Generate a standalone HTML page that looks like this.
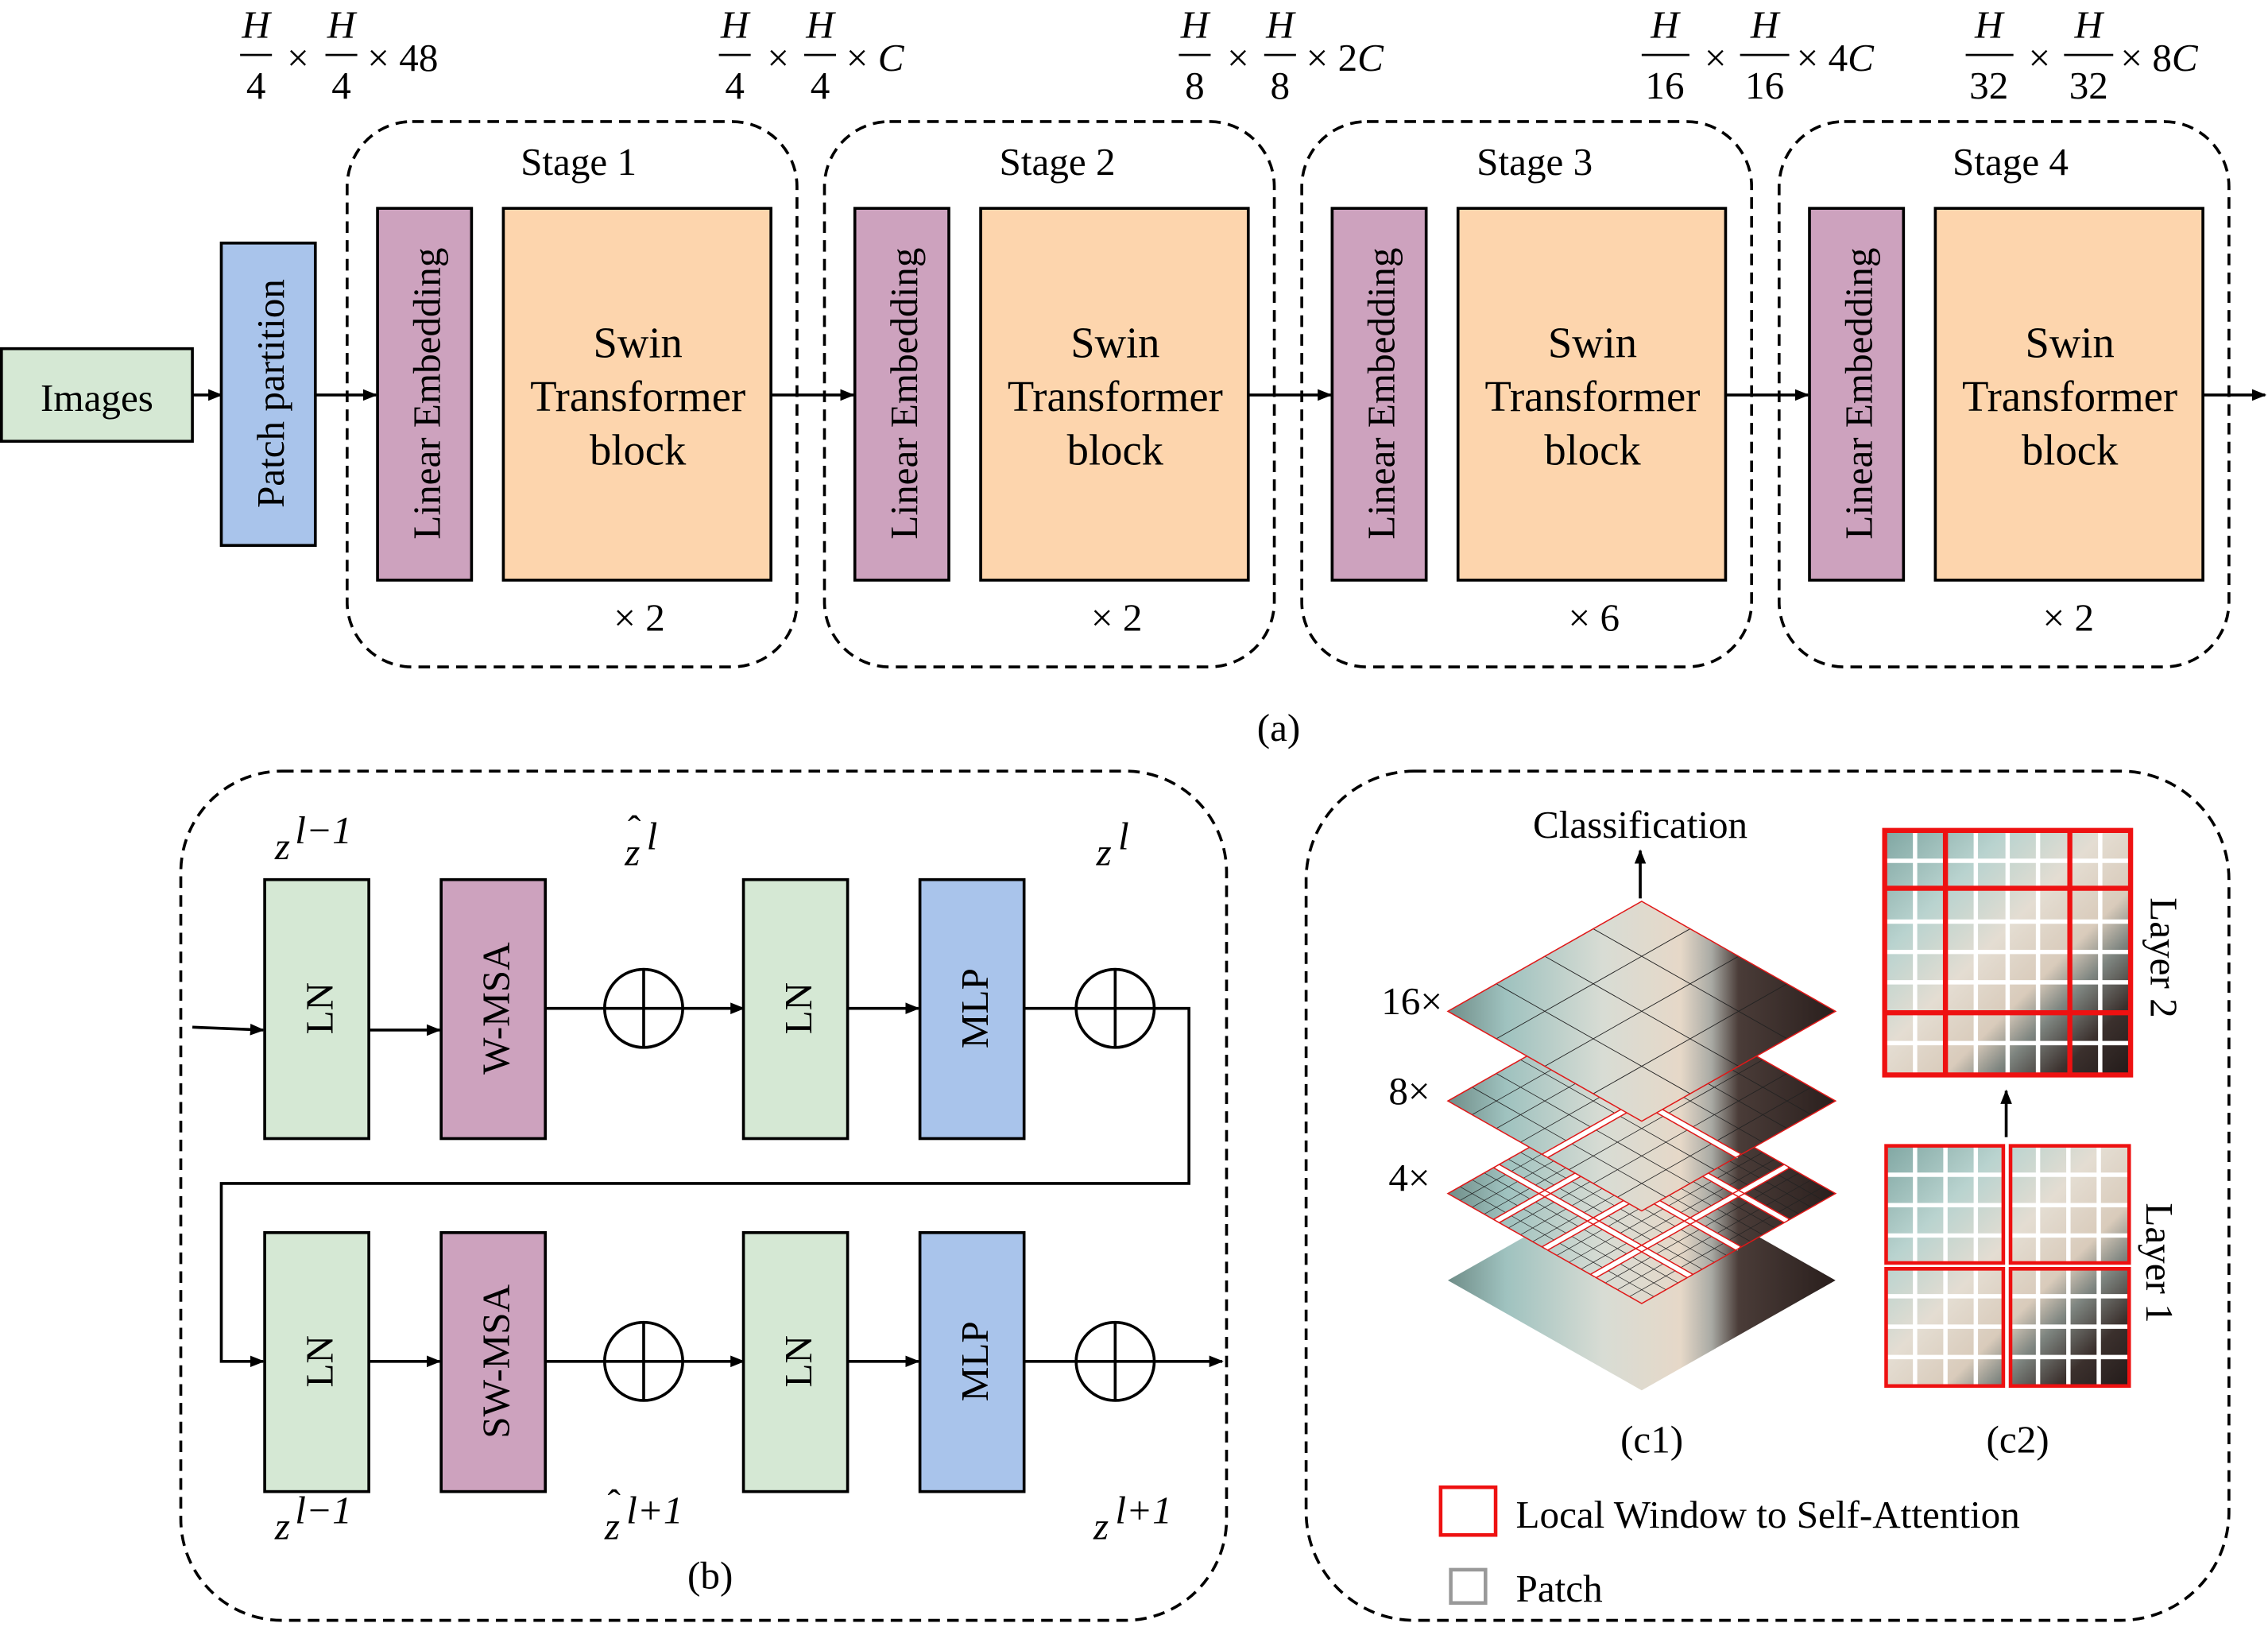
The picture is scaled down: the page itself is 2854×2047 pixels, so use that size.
<!DOCTYPE html>
<html><head><meta charset="utf-8"><style>html,body{margin:0;padding:0;background:#fff}svg{display:block}</style></head>
<body>
<svg width="2854" height="2047" viewBox="0 0 1568 1124.6" preserveAspectRatio="none" xmlns="http://www.w3.org/2000/svg">
<defs>
<marker id="ar" markerWidth="10" markerHeight="10" refX="9" refY="5" orient="auto" markerUnits="userSpaceOnUse"><path d="M0,1 L10,5 L0,9 z" fill="#000"/></marker>
<linearGradient id="img" x1="0" y1="0" x2="1" y2="0">
<stop offset="0" stop-color="#6f8d88"/><stop offset="0.15" stop-color="#9fc2bf"/><stop offset="0.4" stop-color="#d8dcd4"/><stop offset="0.6" stop-color="#e6d8c8"/><stop offset="0.68" stop-color="#a9aaa4"/><stop offset="0.75" stop-color="#4a3c38"/><stop offset="1" stop-color="#2a1f1d"/></linearGradient>
<linearGradient id="img2" x1="0" y1="0" x2="1" y2="1">
<stop offset="0" stop-color="#7fa6a2"/><stop offset="0.25" stop-color="#b9d3cf"/><stop offset="0.45" stop-color="#e4ddd2"/><stop offset="0.62" stop-color="#d9cbbb"/><stop offset="0.72" stop-color="#7e8580"/><stop offset="0.85" stop-color="#3b302d"/><stop offset="1" stop-color="#221a19"/></linearGradient>
</defs>
<style>
text{font-size:27px;font-family:"Liberation Serif",serif}
.it{font-style:italic}
.b{stroke:#000;stroke-width:2}
.d{fill:none;stroke:#000;stroke-width:2;stroke-dasharray:8 5}
.l{stroke:#000;stroke-width:2;fill:none}
.a{stroke:#000;stroke-width:2;fill:none;marker-end:url(#ar)}
.sw{font-size:30px}
</style>

<!-- fractions -->
<g>
<text class="it" x="177" y="26" text-anchor="middle">H</text><text class="it" x="236" y="26" text-anchor="middle">H</text>
<line x1="166" y1="38" x2="188" y2="38" stroke="#000" stroke-width="1.5"/><line x1="225" y1="38" x2="247" y2="38" stroke="#000" stroke-width="1.5"/>
<text x="177" y="68" text-anchor="middle">4</text><text x="236" y="68" text-anchor="middle">4</text>
<text x="206" y="49" text-anchor="middle">×</text><text x="254" y="49">× 48</text>

<text class="it" x="508" y="26" text-anchor="middle">H</text><text class="it" x="567" y="26" text-anchor="middle">H</text>
<line x1="497" y1="38" x2="519" y2="38" stroke="#000" stroke-width="1.5"/><line x1="556" y1="38" x2="578" y2="38" stroke="#000" stroke-width="1.5"/>
<text x="508" y="68" text-anchor="middle">4</text><text x="567" y="68" text-anchor="middle">4</text>
<text x="538" y="49" text-anchor="middle">×</text><text x="585" y="49">× <tspan class="it">C</tspan></text>

<text class="it" x="826" y="26" text-anchor="middle">H</text><text class="it" x="885" y="26" text-anchor="middle">H</text>
<line x1="815" y1="38" x2="837" y2="38" stroke="#000" stroke-width="1.5"/><line x1="874" y1="38" x2="896" y2="38" stroke="#000" stroke-width="1.5"/>
<text x="826" y="68" text-anchor="middle">8</text><text x="885" y="68" text-anchor="middle">8</text>
<text x="856" y="49" text-anchor="middle">×</text><text x="903" y="49">× 2<tspan class="it">C</tspan></text>

<text class="it" x="1151" y="26" text-anchor="middle">H</text><text class="it" x="1220" y="26" text-anchor="middle">H</text>
<line x1="1135" y1="38" x2="1168" y2="38" stroke="#000" stroke-width="1.5"/><line x1="1203" y1="38" x2="1237" y2="38" stroke="#000" stroke-width="1.5"/>
<text x="1151" y="68" text-anchor="middle">16</text><text x="1220" y="68" text-anchor="middle">16</text>
<text x="1186" y="49" text-anchor="middle">×</text><text x="1242" y="49">× 4<tspan class="it">C</tspan></text>

<text class="it" x="1375" y="26" text-anchor="middle">H</text><text class="it" x="1444" y="26" text-anchor="middle">H</text>
<line x1="1359" y1="38" x2="1392" y2="38" stroke="#000" stroke-width="1.5"/><line x1="1427" y1="38" x2="1461" y2="38" stroke="#000" stroke-width="1.5"/>
<text x="1375" y="68" text-anchor="middle">32</text><text x="1444" y="68" text-anchor="middle">32</text>
<text x="1410" y="49" text-anchor="middle">×</text><text x="1466" y="49">× 8<tspan class="it">C</tspan></text>
</g>

<!-- (a) -->
<rect x="1" y="241" width="132" height="64" fill="#d5e8d4" class="b"/>
<text x="67" y="284" text-anchor="middle">Images</text>
<line x1="133" y1="273" x2="153" y2="273" class="a"/>
<rect x="153" y="168" width="65" height="209" fill="#a9c4eb" class="b"/>
<text transform="translate(196,272) rotate(-90)" text-anchor="middle">Patch partition</text>
<line x1="218" y1="273" x2="260" y2="273" class="a"/>

<g id="stage">
<rect x="240" y="84" width="311" height="377" rx="45" class="d"/>
<rect x="261" y="144" width="65" height="257" fill="#cda2be" class="b"/>
<text transform="translate(304,272) rotate(-90)" text-anchor="middle">Linear Embedding</text>
<rect x="348" y="144" width="185" height="257" fill="#fdd5ad" class="b"/>
<text x="441" y="247" text-anchor="middle" class="sw">Swin</text>
<text x="441" y="284" text-anchor="middle" class="sw">Transformer</text>
<text x="441" y="321" text-anchor="middle" class="sw">block</text>
</g>
<use href="#stage" x="330"/><use href="#stage" x="660"/><use href="#stage" x="990"/>
<text x="400" y="121" text-anchor="middle">Stage 1</text>
<text x="731" y="121" text-anchor="middle">Stage 2</text>
<text x="1061" y="121" text-anchor="middle">Stage 3</text>
<text x="1390" y="121" text-anchor="middle">Stage 4</text>
<text x="442" y="436" text-anchor="middle">× 2</text>
<text x="772" y="436" text-anchor="middle">× 2</text>
<text x="1102" y="436" text-anchor="middle">× 6</text>
<text x="1430" y="436" text-anchor="middle">× 2</text>
<line x1="533" y1="273" x2="590" y2="273" class="a"/>
<line x1="863" y1="273" x2="920" y2="273" class="a"/>
<line x1="1193" y1="273" x2="1250" y2="273" class="a"/>
<line x1="1523" y1="273" x2="1566" y2="273" class="a"/>
<text x="884" y="512" text-anchor="middle">(a)</text>

<!-- (b) -->
<rect x="125" y="533" width="723" height="587" rx="70" class="d"/>
<g>
<rect x="183" y="608" width="72" height="179" fill="#d5e8d4" class="b"/>
<rect x="305" y="608" width="72" height="179" fill="#cda2be" class="b"/>
<rect x="514" y="608" width="72" height="179" fill="#d5e8d4" class="b"/>
<rect x="636" y="608" width="72" height="179" fill="#a9c4eb" class="b"/>
<ellipse cx="445" cy="697" rx="27" ry="27" class="l"/><line x1="445" y1="670" x2="445" y2="724" class="l"/>
<ellipse cx="771" cy="697" rx="27" ry="27" class="l"/><line x1="771" y1="670" x2="771" y2="724" class="l"/>
<line x1="255" y1="712" x2="304" y2="712" class="a"/>
<line x1="377" y1="697" x2="514" y2="697" class="a"/>
<line x1="586" y1="697" x2="635" y2="697" class="a"/>
<text transform="translate(230,697) rotate(-90)" text-anchor="middle" font-size="29">LN</text>
<text transform="translate(352,697) rotate(-90)" text-anchor="middle">W-MSA</text>
<text transform="translate(561,697) rotate(-90)" text-anchor="middle" font-size="29">LN</text>
<text transform="translate(683,697) rotate(-90)" text-anchor="middle" font-size="29">MLP</text>
</g>
<g transform="translate(0,244)">
<rect x="183" y="608" width="72" height="179" fill="#d5e8d4" class="b"/>
<rect x="305" y="608" width="72" height="179" fill="#cda2be" class="b"/>
<rect x="514" y="608" width="72" height="179" fill="#d5e8d4" class="b"/>
<rect x="636" y="608" width="72" height="179" fill="#a9c4eb" class="b"/>
<ellipse cx="445" cy="697" rx="27" ry="27" class="l"/><line x1="445" y1="670" x2="445" y2="724" class="l"/>
<ellipse cx="771" cy="697" rx="27" ry="27" class="l"/><line x1="771" y1="670" x2="771" y2="724" class="l"/>
<line x1="255" y1="697" x2="304" y2="697" class="a"/>
<line x1="377" y1="697" x2="514" y2="697" class="a"/>
<line x1="586" y1="697" x2="635" y2="697" class="a"/>
<line x1="708" y1="697" x2="845" y2="697" class="a"/>
<text transform="translate(230,697) rotate(-90)" text-anchor="middle" font-size="29">LN</text>
<text transform="translate(352,697) rotate(-90)" text-anchor="middle">SW-MSA</text>
<text transform="translate(561,697) rotate(-90)" text-anchor="middle" font-size="29">LN</text>
<text transform="translate(683,697) rotate(-90)" text-anchor="middle" font-size="29">MLP</text>
</g>
<line x1="133" y1="710" x2="182" y2="712" class="a"/>
<polyline points="708,697 822,697 822,818 153,818 153,941 182,941" class="a"/>
<g>
<text class="it" x="190" y="594">z</text><text class="it" x="204" y="583" font-size="21">l−1</text>
<text class="it" x="432" y="598">z</text><text x="434" y="582" font-size="18">ˆ</text><text class="it" x="447" y="587" font-size="21">l</text>
<text class="it" x="758" y="598">z</text><text class="it" x="773" y="587" font-size="21">l</text>
<text class="it" x="190" y="1064">z</text><text class="it" x="204" y="1053" font-size="21">l−1</text>
<text class="it" x="418" y="1064">z</text><text x="420" y="1048" font-size="18">ˆ</text><text class="it" x="433" y="1053" font-size="21">l+1</text>
<text class="it" x="756" y="1064">z</text><text class="it" x="771" y="1053" font-size="21">l+1</text>
</g>
<text x="491" y="1098" text-anchor="middle">(b)</text>

<!-- (c) -->
<rect x="903" y="533" width="638" height="587" rx="75" class="d"/>
<text x="1134" y="579" text-anchor="middle">Classification</text>
<line x1="1134" y1="621" x2="1134" y2="588" class="a" stroke-width="3"/>

<polygon points="1135,809 1269,885 1135,961 1001,885" fill="url(#img)"/>
<polygon points="1135,749 1269,825 1135,901 1001,825" fill="url(#img)"/>
<g transform="matrix(134,76,-134,76,1135,749)">
<path vector-effect="non-scaling-stroke" stroke="#222" stroke-width="0.7" fill="none" d="M0 .0625H1M0 .125H1M0 .1875H1M0 .3125H1M0 .375H1M0 .4375H1M0 .5625H1M0 .625H1M0 .6875H1M0 .8125H1M0 .875H1M0 .9375H1M.0625 0V1M.125 0V1M.1875 0V1M.3125 0V1M.375 0V1M.4375 0V1M.5625 0V1M.625 0V1M.6875 0V1M.8125 0V1M.875 0V1M.9375 0V1"/>
<path vector-effect="non-scaling-stroke" stroke="#fff" stroke-width="6" fill="none" d="M0 .25H1M0 .5H1M0 .75H1M.25 0V1M.5 0V1M.75 0V1"/>
<path vector-effect="non-scaling-stroke" stroke="#e01818" stroke-width="1.5" fill="none" d="M0 0H1V1H0ZM0 .235H1M0 .265H1M0 .485H1M0 .515H1M0 .735H1M0 .765H1M.235 0V1M.265 0V1M.485 0V1M.515 0V1M.735 0V1M.765 0V1"/>
</g>
<polygon points="1135,685 1269,761 1135,837 1001,761" fill="url(#img)"/>
<g transform="matrix(134,76,-134,76,1135,685)">
<path vector-effect="non-scaling-stroke" stroke="#222" stroke-width="0.8" fill="none" d="M0 .125H1M0 .25H1M0 .375H1M0 .625H1M0 .75H1M0 .875H1M.125 0V1M.25 0V1M.375 0V1M.625 0V1M.75 0V1M.875 0V1"/>
<path vector-effect="non-scaling-stroke" stroke="#fff" stroke-width="7" fill="none" d="M0 .5H1M.5 0V1"/>
<path vector-effect="non-scaling-stroke" stroke="#e01818" stroke-width="1.5" fill="none" d="M0 0H1V1H0ZM0 .485H1M0 .515H1M.485 0V1M.515 0V1"/>
</g>
<polygon points="1135,623 1269,699 1135,775 1001,699" fill="url(#img)"/>
<g transform="matrix(134,76,-134,76,1135,623)">
<path vector-effect="non-scaling-stroke" stroke="#222" stroke-width="0.9" fill="none" d="M0 .25H1M0 .5H1M0 .75H1M.25 0V1M.5 0V1M.75 0V1"/>
<path vector-effect="non-scaling-stroke" stroke="#e01818" stroke-width="1.5" fill="none" d="M0 0H1V1H0Z"/>
</g>
<text x="955" y="701" font-size="24">16×</text>
<text x="960" y="763" font-size="24">8×</text>
<text x="960" y="823" font-size="24">4×</text>
<text x="1142" y="1004" text-anchor="middle">(c1)</text>

<rect x="1303" y="574" width="170" height="169" fill="url(#img2)"/>
<path stroke="#fff" stroke-width="3" fill="none" d="M1303 595H1473M1303 637H1473M1303 658H1473M1303 679H1473M1303 721H1473M1324 574V743M1366 574V743M1388 574V743M1409 574V743M1452 574V743"/>
<path stroke="#ee1111" stroke-width="3.5" fill="none" d="M1303 574H1473V743H1303ZM1345 574V743M1431 574V743M1303 614H1473M1303 700H1473"/>
<text transform="translate(1487,662) rotate(90)" text-anchor="middle">Layer 2</text>
<line x1="1387" y1="786" x2="1387" y2="754" class="a" stroke-width="3"/>
<rect x="1303" y="791" width="170" height="168" fill="url(#img2)"/>
<path stroke="#fff" stroke-width="3" fill="none" d="M1303 812H1473M1303 833H1473M1303 854H1473M1303 896H1473M1303 917H1473M1303 938H1473M1324 791V959M1345 791V959M1366 791V959M1409 791V959M1430 791V959M1451 791V959"/>
<path stroke="#fff" stroke-width="4" fill="none" d="M1387.5 791V959M1303 875H1473"/>
<path stroke="#ee1111" stroke-width="2.5" fill="none" d="M1304 792H1385V873H1304ZM1390 792H1472V873H1390ZM1304 877H1385V958H1304ZM1390 877H1472V958H1390Z"/>
<text transform="translate(1484,873) rotate(90)" text-anchor="middle">Layer 1</text>
<text x="1395" y="1004" text-anchor="middle">(c2)</text>

<rect x="996" y="1028" width="38" height="33" fill="none" stroke="#ee1111" stroke-width="2.5"/>
<text x="1048" y="1056">Local Window to Self-Attention</text>
<rect x="1003" y="1085" width="24" height="23" fill="none" stroke="#999" stroke-width="2.5"/>
<text x="1048" y="1107">Patch</text>
</svg>
</body></html>
